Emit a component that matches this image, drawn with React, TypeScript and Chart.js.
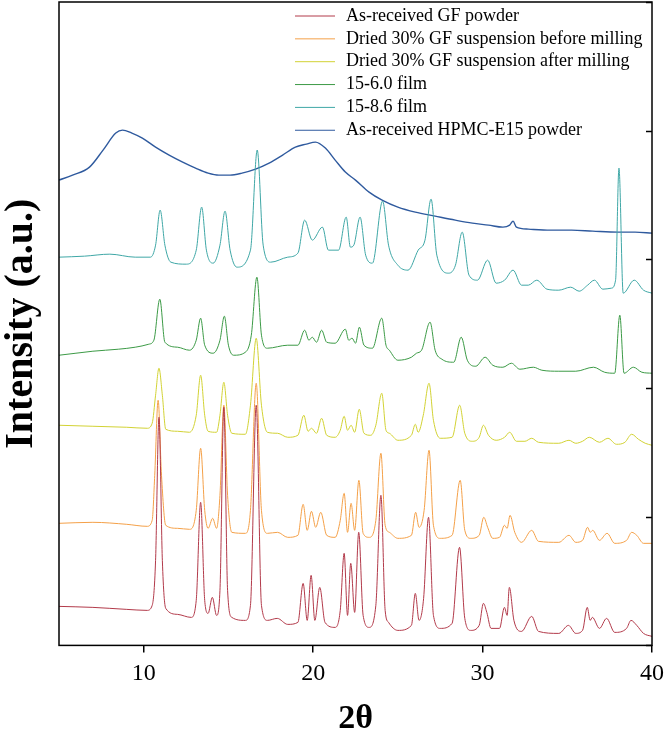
import React, { useEffect, useRef } from "react";
import { Chart, registerables } from "chart.js";

Chart.register(...registerables);

// ---------- data (2θ positions and stacked intensities, a.u.) ----------
const seriesNames = [
  "As-received GF powder",
  "Dried 30% GF suspension before milling",
  "Dried 30% GF suspension after milling",
  "15-6.0 film",
  "15-8.6 film",
  "As-received HPMC-E15 powder",
];

const gfPowderTheta = [5.0, 7.0, 9.0, 10.2, 10.5, 10.7, 10.9, 11.1, 11.3, 12.0, 12.8, 13.1, 13.36, 13.6, 13.8, 14.05, 14.3, 14.5, 14.73, 14.95, 15.2, 16.0, 16.3, 16.64, 16.95, 17.3, 17.88, 18.5, 19.1, 19.41, 19.65, 19.88, 20.1, 20.39, 20.7, 21.3, 21.6, 21.83, 22.03, 22.22, 22.45, 22.69, 22.95, 23.3, 23.7, 24.0, 24.25, 24.45, 25.0, 25.8, 26.03, 26.25, 26.52, 26.81, 27.1, 27.5, 28.2, 28.64, 28.95, 29.3, 29.8, 30.05, 30.25, 30.5, 31.0, 31.29, 31.45, 31.58, 31.85, 32.3, 32.9, 33.3, 34.5, 35.07, 35.5, 35.9, 36.18, 36.35, 36.48, 36.9, 37.32, 37.8, 38.5, 38.76, 39.1, 39.5, 40.0];
const gfPowderIntensity = [39, 38, 36, 35, 40, 85, 228, 85, 37, 31, 28, 45, 143, 45, 32, 48, 30, 55, 238, 55, 28, 25, 40, 240, 40, 25, 27, 21, 23, 62, 25, 70, 25, 58, 23, 18, 35, 92, 30, 82, 33, 113, 30, 18, 40, 150, 35, 23, 15, 20, 52, 25, 47, 128, 30, 17, 22, 98, 27, 15, 20, 42, 33, 17, 17, 38, 30, 58, 25, 14, 29, 14, 12, 20, 12, 15, 38, 25, 28, 17, 27, 13, 17, 25, 20, 12, 9];

const beforeMillingTheta = [5.0, 7.0, 9.0, 10.2, 10.5, 10.65, 10.85, 11.05, 11.3, 12.0, 12.7, 13.1, 13.36, 13.6, 13.8, 14.07, 14.3, 14.5, 14.73, 14.95, 15.2, 16.0, 16.3, 16.64, 16.95, 17.3, 17.9, 18.5, 19.1, 19.41, 19.65, 19.9, 20.15, 20.45, 20.8, 21.3, 21.6, 21.83, 22.03, 22.24, 22.45, 22.7, 22.95, 23.3, 23.7, 24.0, 24.25, 24.5, 25.0, 25.8, 26.05, 26.25, 26.55, 26.84, 27.1, 27.5, 28.2, 28.68, 28.95, 29.3, 29.8, 30.07, 30.3, 30.6, 31.0, 31.29, 31.45, 31.62, 31.9, 32.3, 32.9, 33.3, 34.5, 35.1, 35.5, 35.9, 36.2, 36.35, 36.5, 36.9, 37.35, 37.8, 38.5, 38.8, 39.1, 39.5, 40.0];
const beforeMillingIntensity = [122, 123, 121, 119, 125, 170, 245, 170, 120, 117, 116, 135, 197, 135, 117, 127, 117, 150, 240, 150, 113, 112, 135, 262, 135, 112, 113, 108, 110, 141, 115, 134, 118, 133, 110, 108, 125, 152, 113, 142, 115, 165, 112, 108, 125, 192, 120, 113, 107, 110, 133, 118, 135, 195, 120, 107, 110, 165, 115, 107, 110, 128, 118, 107, 108, 120, 117, 130, 113, 103, 115, 104, 103, 110, 103, 105, 118, 113, 115, 105, 112, 102, 105, 113, 110, 102, 102];

const afterMillingTheta = [5.0, 7.0, 9.0, 10.2, 10.5, 10.7, 10.9, 11.1, 11.3, 12.0, 12.7, 13.1, 13.36, 13.6, 13.8, 14.3, 14.5, 14.73, 14.95, 15.2, 16.0, 16.3, 16.64, 16.95, 17.3, 17.9, 18.5, 19.1, 19.45, 19.7, 19.9, 20.2, 20.5, 20.8, 21.3, 21.6, 21.83, 22.03, 22.24, 22.45, 22.72, 23.0, 23.4, 23.7, 24.05, 24.3, 24.5, 25.0, 25.8, 26.03, 26.2, 26.5, 26.84, 27.1, 27.5, 28.2, 28.65, 28.95, 29.4, 29.8, 30.05, 30.35, 30.8, 31.3, 31.6, 32.0, 32.5, 32.9, 33.3, 34.5, 35.1, 35.5, 35.9, 36.3, 36.9, 37.4, 37.9, 38.4, 38.8, 39.2, 39.6, 40.0];
const afterMillingIntensity = [220, 219, 218, 217, 222, 250, 277, 250, 216, 214, 213, 230, 270, 230, 214, 213, 230, 263, 230, 212, 211, 240, 307, 240, 213, 212, 208, 210, 230, 214, 217, 212, 227, 210, 208, 215, 229, 215, 220, 213, 236, 212, 210, 220, 252, 215, 212, 205, 210, 221, 213, 230, 262, 225, 207, 208, 240, 212, 204, 208, 220, 210, 205, 208, 213, 204, 204, 207, 203, 202, 205, 202, 204, 208, 203, 207, 201, 203, 211, 206, 202, 200];

const film60Theta = [5.0, 6.0, 7.0, 8.5, 9.5, 10.3, 10.6, 10.95, 11.25, 12.0, 12.7, 13.1, 13.36, 13.6, 14.1, 14.5, 14.76, 15.0, 15.3, 16.0, 16.35, 16.68, 16.95, 17.3, 18.5, 19.1, 19.5, 19.75, 19.95, 20.2, 20.5, 20.8, 21.3, 21.9, 22.1, 22.3, 22.5, 22.73, 23.0, 23.5, 24.05, 24.3, 24.5, 25.0, 25.8, 26.1, 26.4, 26.9, 27.2, 27.6, 28.3, 28.74, 29.1, 29.6, 30.15, 30.6, 31.2, 31.7, 32.2, 33.0, 33.5, 34.5, 35.5, 36.55, 37.2, 37.8, 38.1, 38.35, 38.9, 39.4, 40.0];
const film60Intensity = [290, 292, 294, 296, 298, 301, 305, 346, 303, 298, 295, 305, 327, 300, 292, 305, 329, 300, 290, 293, 310, 368, 310, 297, 300, 300, 315, 305, 308, 303, 315, 303, 302, 316, 305, 307, 302, 318, 300, 297, 327, 300, 295, 285, 288, 292, 295, 323, 295, 286, 283, 308, 285, 279, 288, 280, 278, 282, 276, 278, 275, 274, 274, 278, 273, 272, 330, 272, 278, 273, 272];

const film86Theta = [5.0, 6.5, 8.0, 9.5, 10.4, 10.7, 10.97, 11.25, 11.6, 12.5, 13.1, 13.42, 13.7, 14.1, 14.5, 14.8, 15.1, 15.5, 16.3, 16.7, 17.05, 17.5, 18.5, 19.1, 19.5, 19.95, 20.55, 20.9, 21.5, 21.95, 22.2, 22.4, 22.77, 23.1, 23.5, 24.1, 24.45, 25.0, 25.6, 26.2, 26.6, 26.96, 27.3, 28.0, 28.4, 28.8, 29.2, 29.7, 30.3, 30.8, 31.3, 31.8, 32.3, 32.7, 33.2, 33.8, 34.5, 35.2, 35.7, 36.2, 36.6, 37.1, 37.6, 37.85, 38.05, 38.3, 38.95, 39.5, 40.0];
const film86Intensity = [388, 389, 391, 388, 388, 400, 435, 400, 383, 381, 395, 438, 395, 382, 400, 434, 395, 378, 395, 495, 400, 383, 388, 392, 425, 405, 418, 395, 395, 428, 398, 400, 428, 390, 382, 444, 400, 380, 375, 395, 405, 446, 390, 372, 380, 413, 370, 365, 385, 362, 365, 375, 360, 360, 365, 356, 355, 358, 354, 360, 365, 356, 357, 365, 477, 352, 365, 355, 352];

const hpmcTheta = [5.0, 5.8, 6.8, 7.6, 8.35, 8.75, 9.3, 9.92, 10.7, 11.5, 12.3, 13.06, 13.8, 14.44, 15.1, 15.8, 16.6, 17.4, 18.2, 18.95, 19.6, 20.14, 20.72, 21.3, 21.9, 22.5, 23.3, 24.07, 25.0, 26.03, 27.2, 28.39, 29.4, 30.35, 31.2, 31.6, 31.8, 32.0, 32.7, 34.0, 35.26, 36.5, 38.0, 39.0, 40.0];
const hpmcIntensity = [465, 470, 478, 495, 512, 515, 512, 507, 498, 490, 483, 477, 472, 470, 470, 472, 476, 482, 490, 498, 501, 503, 497, 485, 473, 465, 453, 445, 438, 433, 429, 425, 422, 420, 418, 420, 424, 418, 416, 415, 415, 414, 413, 413, 412];

const xTickValues = [10, 20, 30, 40];
const yTickValues = [0, 128.6, 257.2, 385.8, 514.4, 643];

// ---------- styles ----------
const seriesColors = ["#b23a4a", "#f4a048", "#d2d234", "#3c9a46", "#3fa7a6", "#2f5a9e"];
const seriesWidths = [1, 1, 1, 1, 1, 1.4];
const SERIF = "'Liberation Serif', 'Times New Roman', serif";

const thetaSets = [gfPowderTheta, beforeMillingTheta, afterMillingTheta, film60Theta, film86Theta, hpmcTheta];
const intensitySets = [gfPowderIntensity, beforeMillingIntensity, afterMillingIntensity, film60Intensity, film86Intensity, hpmcIntensity];

const framePlugin = {
  id: "frameAndLegend",
  afterDraw(chart: any) {
    const { ctx, chartArea } = chart;
    const { left, right, top, bottom } = chartArea;
    ctx.save();
    // inward ticks along the right edge, placed through the y scale
    const yScale = chart.scales.y;
    ctx.strokeStyle = "#000";
    ctx.lineWidth = 1.5;
    yScale.ticks.forEach((t: any) => {
      const py = Math.round(yScale.getPixelForValue(t.value)) + 0.5;
      ctx.beginPath();
      ctx.moveTo(right - 6, py);
      ctx.lineTo(right, py);
      ctx.stroke();
    });
    // frame
    ctx.lineWidth = 1.5;
    ctx.strokeRect(left, top, right - left, bottom - top);
    // legend
    ctx.font = `18px ${SERIF}`;
    ctx.textBaseline = "middle";
    ctx.textAlign = "left";
    chart.data.datasets.forEach((ds: any, i: number) => {
      const ly = top + 14 + i * 22.85;
      const lx = left + 236;
      ctx.strokeStyle = ds.borderColor;
      ctx.lineWidth = 1;
      ctx.beginPath();
      ctx.moveTo(lx, ly);
      ctx.lineTo(lx + 40, ly);
      ctx.stroke();
      ctx.fillStyle = "#000";
      ctx.fillText(ds.label, lx + 51, ly);
    });
    ctx.restore();
  },
};

export default function App() {
  const canvasRef = useRef<HTMLCanvasElement | null>(null);

  useEffect(() => {
    if (!canvasRef.current) return;
    const datasets = seriesNames.map((name, i) => ({
      label: name,
      data: thetaSets[i].map((t, j) => ({ x: t, y: intensitySets[i][j] })),
      borderColor: seriesColors[i],
      backgroundColor: seriesColors[i],
      borderWidth: seriesWidths[i],
      pointRadius: 0,
      fill: false,
      cubicInterpolationMode: "monotone" as const,
    }));

    const chart = new Chart(canvasRef.current, {
      type: "line",
      data: { datasets },
      options: {
        responsive: false,
        animation: false,
        layout: { padding: { left: 0, right: 0, top: 2, bottom: 4 } },
        plugins: { legend: { display: false }, tooltip: { enabled: false } },
        scales: {
          x: {
            type: "linear",
            min: 5,
            max: 40,
            afterBuildTicks: (s: any) => {
              s.ticks = xTickValues.map((v) => ({ value: v }));
            },
            afterFit: (s: any) => {
              s.paddingRight = 14;
            },
            ticks: {
              color: "#000",
              font: { family: SERIF, size: 24 },
              padding: 7,
              maxRotation: 0,
              autoSkip: false,
            },
            grid: {
              display: true,
              drawOnChartArea: false,
              drawTicks: true,
              tickLength: 7,
              color: "#000",
              lineWidth: 1.5,
            },
            border: { display: false },
            title: {
              display: true,
              text: "2θ",
              color: "#000",
              font: { family: SERIF, size: 34, weight: "bold", lineHeight: 1.2 },
              padding: { top: 4, bottom: 0 },
            },
          },
          y: {
            type: "linear",
            position: "left",
            min: 0,
            max: 643,
            afterBuildTicks: (s: any) => {
              s.ticks = yTickValues.map((v) => ({ value: v }));
            },
            ticks: { display: false },
            grid: { display: false, drawTicks: false },
            border: { display: false },
            title: {
              display: true,
              text: "Intensity (a.u.)",
              color: "#000",
              font: { family: SERIF, size: 40, weight: "bold", lineHeight: 1.1 },
              padding: { top: 0, bottom: 15 },
            },
          },
        },
      },
      plugins: [framePlugin],
    });
    return () => chart.destroy();
  }, []);

  return (
    <div style={{ position: "absolute", left: 0, top: 0, width: 666, height: 744, background: "#fff" }}>
      <canvas ref={canvasRef} width={666} height={744} style={{ display: "block" }} />
    </div>
  );
}
